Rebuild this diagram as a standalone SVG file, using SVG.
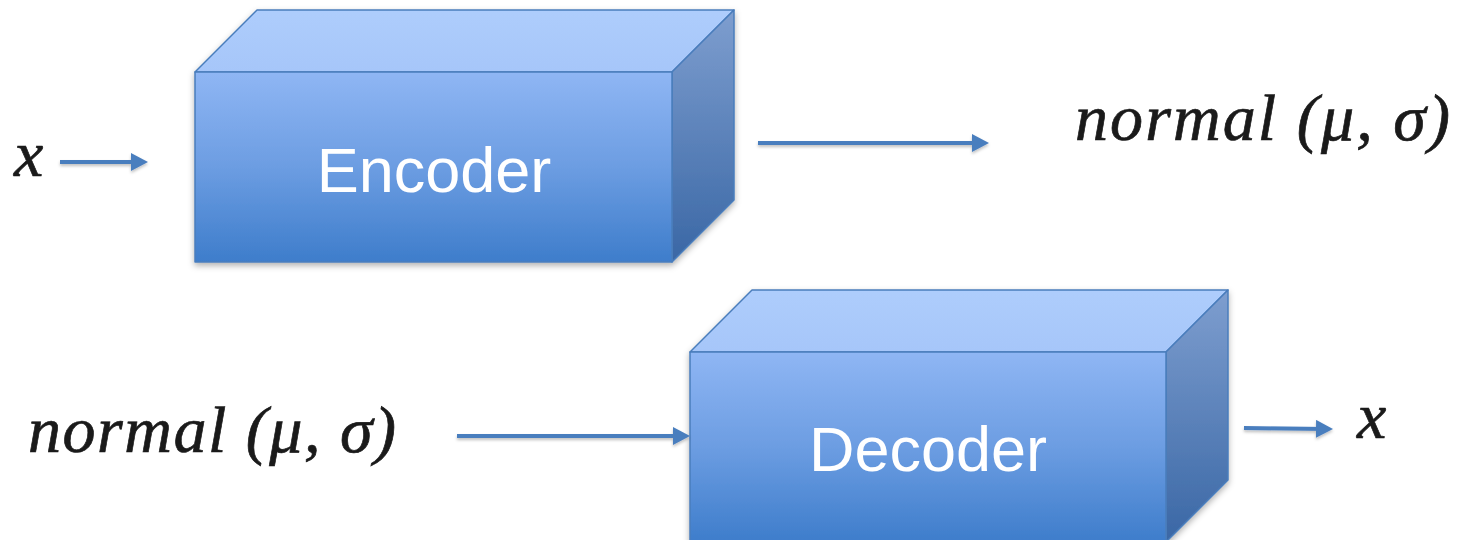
<svg xmlns="http://www.w3.org/2000/svg" width="1460" height="540" viewBox="0 0 1460 540">
  <style>
    .face { stroke: #4A7DBC; stroke-width: 1.5; stroke-linejoin: round; }
    .front { fill: url(#gFront); }
    .top { fill: url(#gTop); }
    .side { fill: url(#gSide); }
    .box-label { font-family: "Liberation Sans", Arial, sans-serif; font-size: 63px; fill: #FFFFFF; text-anchor: middle; }
    .math { font-family: "Liberation Serif", "Times New Roman", serif; font-style: italic; font-size: 66px; fill: #1A1A1A; stroke: #1A1A1A; stroke-width: 0.7; }
    .conn { stroke: #4A7EBE; stroke-width: 4; fill: none; marker-end: url(#arrow); }
  </style>
  <defs>
    <linearGradient id="gFront" x1="0" y1="0" x2="0" y2="1">
      <stop offset="0" stop-color="#8FB6F4"/>
      <stop offset="0.5" stop-color="#6C9DE2"/>
      <stop offset="1" stop-color="#3E7DCB"/>
    </linearGradient>
    <linearGradient id="gTop" x1="0" y1="0" x2="0" y2="1">
      <stop offset="0" stop-color="#AECDFC"/>
      <stop offset="1" stop-color="#A6C6F9"/>
    </linearGradient>
    <linearGradient id="gSide" x1="0" y1="0" x2="0" y2="1">
      <stop offset="0" stop-color="#7E9ECF"/>
      <stop offset="1" stop-color="#3A67A5"/>
    </linearGradient>
    <filter id="boxShadow" x="-10%" y="-10%" width="120%" height="130%">
      <feDropShadow dx="0" dy="3" stdDeviation="3" flood-color="#000000" flood-opacity="0.3"/>
    </filter>
    <filter id="lineShadow" filterUnits="userSpaceOnUse" x="0" y="0" width="1460" height="540">
      <feDropShadow dx="0" dy="2" stdDeviation="1.5" flood-color="#000000" flood-opacity="0.25"/>
    </filter>
    <marker id="arrow" markerUnits="userSpaceOnUse" viewBox="0 0 17 18" markerWidth="17" markerHeight="18" refX="11" refY="9" orient="auto">
      <path d="M0,0 L17,9 L0,18 Z" fill="#4A7EBE"/>
    </marker>
  </defs>

  <!-- Encoder block -->
  <g id="encoder" filter="url(#boxShadow)">
    <polygon class="face top" points="195,72 257,10 734,10 672,72"/>
    <polygon class="face side" points="672,72 734,10 734,200 672,262"/>
    <rect class="face front" x="195" y="72" width="477" height="190"/>
    <text class="box-label" x="434" y="192">Encoder</text>
  </g>

  <!-- Decoder block -->
  <g id="decoder" filter="url(#boxShadow)">
    <polygon class="face top" points="690,352 752,290 1228,290 1166,352"/>
    <polygon class="face side" points="1166,352 1228,290 1228,480 1166,542"/>
    <rect class="face front" x="690" y="352" width="476" height="190"/>
    <text class="box-label" x="928" y="471">Decoder</text>
  </g>

  <!-- Labels -->
  <g id="input-x">
    <text class="math" x="14" y="176">x</text>
  </g>
  <g id="latent-out">
    <text class="math" x="1075" y="140" textLength="375" lengthAdjust="spacing">normal (μ, σ)</text>
  </g>
  <g id="latent-in">
    <text class="math" x="28" y="452" textLength="368" lengthAdjust="spacing">normal (μ, σ)</text>
  </g>
  <g id="output-x">
    <text class="math" x="1357" y="438">x</text>
  </g>

  <!-- Connectors -->
  <g id="connectors" filter="url(#lineShadow)">
    <line class="conn" x1="60" y1="162" x2="142" y2="162"/>
    <line class="conn" x1="758" y1="143" x2="983" y2="143"/>
    <line class="conn" x1="457" y1="436" x2="684" y2="436"/>
    <line class="conn" x1="1244" y1="428" x2="1327" y2="429"/>
  </g>
</svg>
